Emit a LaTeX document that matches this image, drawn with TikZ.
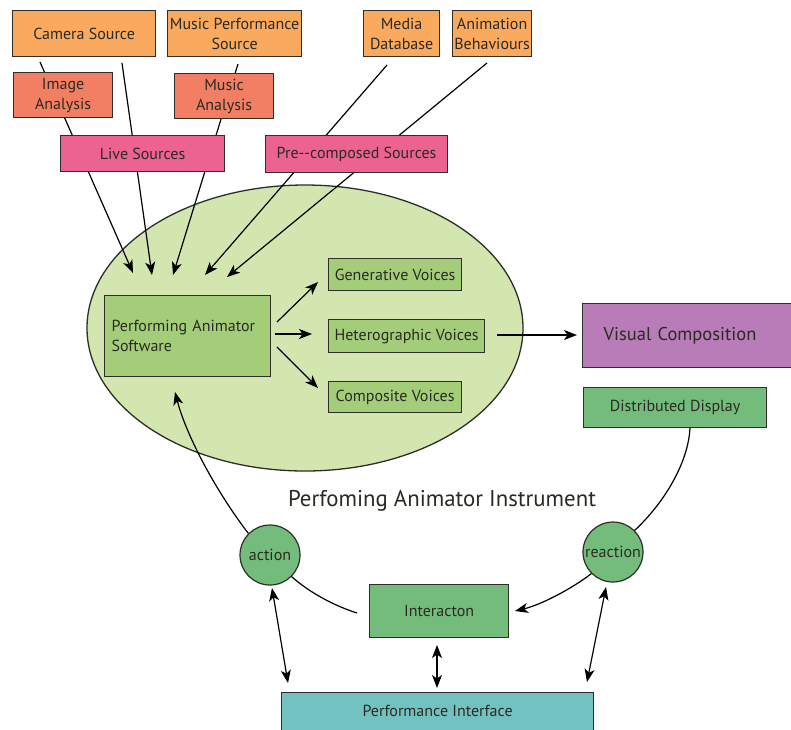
\documentclass[tikz,border=0pt]{standalone}
\usepackage{fontspec}
\setmainfont{PT Sans}
\usetikzlibrary{arrows.meta,backgrounds}
\pgfdeclarelayer{middle}
\pgfsetlayers{background,middle,main}
\definecolor{orng}{HTML}{F9AA5F}
\definecolor{salm}{HTML}{F27F63}
\definecolor{pinkc}{HTML}{EC6391}
\definecolor{ellf}{HTML}{D4E6AF}
\definecolor{ingr}{HTML}{A4CD7A}
\definecolor{purp}{HTML}{B87CB8}
\definecolor{dgrn}{HTML}{74BC7C}
\definecolor{tealc}{HTML}{72C2C1}
\definecolor{txt}{HTML}{2A2A22}
\definecolor{edge}{HTML}{2E2E28}
\tikzset{
  box/.style={draw=edge, line width=1.2pt, inner sep=0pt, align=center, text=txt,
    font=\fontsize{16}{20}\selectfont, anchor=north west},
  circ/.style={circle, draw=edge, line width=1.2pt, fill=dgrn, inner sep=0pt,
    minimum size=60pt, text=txt, font=\fontsize{16}{18}\selectfont},
  conn/.style={draw=black, line width=1.2pt},
  arr/.style={conn, -{Stealth[length=13pt,width=10pt,inset=3.5pt]}},
  darr/.style={conn, {Stealth[length=13pt,width=10pt,inset=3.5pt]}-{Stealth[length=13pt,width=10pt,inset=3.5pt]}}
}
\begin{document}
\begin{tikzpicture}[x=1pt,y=-1pt]
\useasboundingbox (0,0) rectangle (791,729);
\begin{pgfonlayer}{background}
\fill[white] (0,0) rectangle (791,729);
\draw[draw=edge, line width=1.3pt, fill=ellf] (305,328) ellipse [x radius=218, y radius=143];
\end{pgfonlayer}
% source boxes
\node[box, fill=orng, minimum width=143pt, minimum height=46pt] (cam) at (12,10) {Camera Source};
\node[box, fill=orng, minimum width=134pt, minimum height=46pt] (mps) at (167,10) {Music Performance\\Source};
\node[box, fill=orng, minimum width=76pt, minimum height=46pt] (mdb) at (363,10) {Media\\Database};
\node[box, fill=orng, minimum width=79pt, minimum height=46pt] (anb) at (452,10) {Animation\\Behaviours};
\node[box, fill=salm, minimum width=99pt, minimum height=45pt] (ima) at (13,72) {Image\\Analysis};
\node[box, fill=salm, minimum width=99pt, minimum height=45pt] (mua) at (174,73) {Music\\Analysis};
\node[box, fill=pinkc, minimum width=164pt, minimum height=36pt] (live) at (60,135) {Live Sources};
\node[box, fill=pinkc, minimum width=182pt, minimum height=37pt] (pre) at (265,135) {Pre{-}{-}composed Sources};
% software and voices
\node[box, fill=ingr, minimum width=166pt, minimum height=81pt, text width=152pt, align=left] (pas) at (104,295) {Performing Animator\\Software\\[14pt]};
\node[box, fill=ingr, minimum width=133pt, minimum height=32pt] (gen) at (328,258) {Generative Voices};
\node[box, fill=ingr, minimum width=156pt, minimum height=33pt] (het) at (328,319) {Heterographic Voices};
\node[box, fill=ingr, minimum width=133pt, minimum height=31pt] (com) at (328,381) {Composite Voices};
\node[box, fill=purp, minimum width=215pt, minimum height=64pt, text width=173pt, align=left, font=\fontsize{18.5}{22}\selectfont] (vis) at (582,303) {Visual Composition};
\node[box, fill=dgrn, minimum width=183pt, minimum height=40pt] (dis) at (583,387) {Distributed Display};
\node[font=\fontsize{22.8}{26}\selectfont, text=txt] (inst) at (442,501) {Perfoming Animator Instrument};
\node[circ] (act) at (270,555) {action};
\node[circ] (rea) at (613,552) {reaction};
\node[box, fill=dgrn, minimum width=139pt, minimum height=53pt] (int) at (369,584) {Interacton};
\node[box, fill=tealc, minimum width=312pt, minimum height=44pt] (pif) at (281,692) {\raisebox{8pt}{Performance Interface}};
% free ends
\coordinate (s1) at (40,62);   \coordinate (e1) at (133,273);
\coordinate (s2) at (122,63);  \coordinate (e2) at (152,275);
\coordinate (s3) at (238,64);  \coordinate (e3) at (173,275);
\coordinate (s4) at (387,65);  \coordinate (e4) at (205,275);
\coordinate (s5) at (487,63);  \coordinate (e5) at (227,277);
\coordinate (g1) at (277,322); \coordinate (g2) at (318,282);
\coordinate (h1) at (275,334); \coordinate (h2) at (312,334);
\coordinate (c1) at (277,347); \coordinate (c2) at (318,388);
\coordinate (v1) at (497,335); \coordinate (v2) at (577,335);
\coordinate (pasin) at (175,392);
\coordinate (intl) at (357,613);
\coordinate (intr) at (515,611);
\coordinate (disout) at (690,428);
\coordinate (da1) at (272,588); \coordinate (da2) at (288,683);
\coordinate (db1) at (437,645); \coordinate (db2) at (437,688);
\coordinate (dc1) at (606,587); \coordinate (dc2) at (587,682);
\begin{pgfonlayer}{middle}
\draw[arr] (s1) -- (e1);
\draw[arr] (s2) -- (e2);
\draw[arr] (s3) -- (e3);
\draw[arr] (s4) -- (e4);
\draw[arr] (s5) -- (e5);
\end{pgfonlayer}
% software to voices
\draw[arr] (g1) -- (g2);
\draw[arr] (h1) -- (h2);
\draw[arr] (c1) -- (c2);
\draw[arr] (v1) -- (v2);
% loops
\draw[arr] (act.north west) .. controls (218,494) and (187,438) .. (pasin);
\draw[conn] (act.south east) .. controls (310,593) and (335,606) .. (intl);
\draw[arr] (rea.south west) .. controls (570,590) and (540,605) .. (intr);
\draw[conn] (disout) .. controls (688,465) and (662,505) .. (rea.north east);
% double arrows
\draw[darr] (da1) -- (da2);
\draw[darr] (db1) -- (db2);
\draw[darr] (dc1) -- (dc2);
\end{tikzpicture}
\end{document}
